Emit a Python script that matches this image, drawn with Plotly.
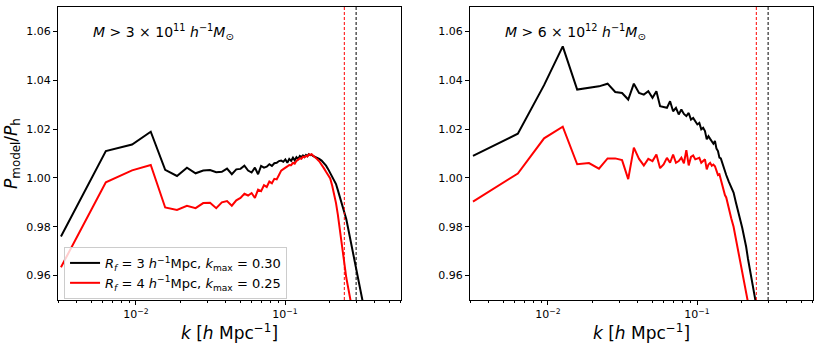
import plotly.graph_objects as go
from plotly.subplots import make_subplots

# k bins [h/Mpc]
k = [0.00314, 0.00628, 0.00942, 0.01257, 0.01571, 0.01885, 0.02199, 0.02513, 0.02827, 0.03142,
     0.03456, 0.0377, 0.04084, 0.04398, 0.04712, 0.05027, 0.05341, 0.05655, 0.05969, 0.06283,
     0.06597, 0.06912, 0.07226, 0.0754, 0.07854, 0.08168, 0.08482, 0.08796, 0.09111, 0.09425,
     0.09739, 0.10053, 0.10367, 0.10681, 0.10996, 0.1131, 0.11624, 0.11938, 0.12252, 0.12566,
     0.1288, 0.13195, 0.13509, 0.13823, 0.14137, 0.14451, 0.14765, 0.1508, 0.15394, 0.15708,
     0.16336, 0.16965, 0.17593, 0.18221, 0.1885, 0.19478, 0.20106, 0.20735, 0.21363, 0.21991,
     0.2262, 0.23248, 0.23876, 0.24504, 0.25133, 0.25761, 0.26389, 0.27018, 0.27646, 0.28274,
     0.28903, 0.29531, 0.30159, 0.30788, 0.31416, 0.32044, 0.32673, 0.33301]

# P_model / P_h, low-mass sample
low_rf3 = [0.9760, 1.0110, 1.0137, 1.0189, 1.0033, 1.0008, 1.0042, 1.0019, 1.0030, 1.0032,
           1.0023, 1.0025, 1.0038, 1.0015, 1.0035, 1.0037, 1.0050, 1.0030, 1.0022, 1.0042,
           1.0015, 1.0049, 1.0042, 1.0046, 1.0056, 1.0049, 1.0060, 1.0062, 1.0069, 1.0071,
           1.0066, 1.0076, 1.0062, 1.0078, 1.0070, 1.0083, 1.0072, 1.0085, 1.0078, 1.0090,
           1.0085, 1.0092, 1.0086, 1.0094, 1.0089, 1.0097, 1.0093, 1.0095, 1.0090, 1.0088,
           1.0084, 1.0078, 1.0071, 1.0062, 1.0050, 1.0036, 1.0020, 1.0006, 0.9995, 0.9975,
           0.9950, 0.9926, 0.9902, 0.9880, 0.9857, 0.9832, 0.9800, 0.9770, 0.9738, 0.9708,
           0.9680, 0.9650, 0.9622, 0.9594, 0.9568, 0.9541, 0.9516, 0.9490]
low_rf4 = [0.9634, 0.9982, 1.0031, 1.0053, 0.9879, 0.9869, 0.9886, 0.9876, 0.9897, 0.9898,
           0.9876, 0.9900, 0.9905, 0.9886, 0.9908, 0.9918, 0.9935, 0.9928, 0.9938, 0.9918,
           0.9952, 0.9946, 0.9970, 0.9963, 0.9985, 0.9978, 0.9996, 0.9994, 1.0012, 1.0030,
           1.0036, 1.0040, 1.0047, 1.0053, 1.0052, 1.0062, 1.0058, 1.0070, 1.0075, 1.0080,
           1.0078, 1.0087, 1.0084, 1.0090, 1.0088, 1.0096, 1.0094, 1.0097, 1.0092, 1.0088,
           1.0078, 1.0068, 1.0055, 1.0040, 1.0025, 1.0012, 0.9998, 0.9968, 0.9935, 0.9897,
           0.9850, 0.9795, 0.9738, 0.9680, 0.9630, 0.9592, 0.9558, 0.9525, 0.9492, None,
           None, None, None, None, None, None, None, None]

# high-mass sample
high_rf3 = [1.0090, 1.0181, 1.0380, 1.0539, 1.0362, 1.0369, 1.0375, 1.0386, 1.0352, 1.0348,
            1.0321, 1.0386, 1.0348, 1.0341, 1.0355, 1.0328, 1.0355, 1.0294, 1.0292, 1.0287,
            1.0314, 1.0273, 1.0287, 1.0260, 1.0280, 1.0262, 1.0253, 1.0266, 1.0239, 1.0246,
            1.0232, 1.0219, 1.0225, 1.0199, 1.0205, 1.0192, 1.0158, 1.0171, 1.0160, 1.0147,
            1.0140, 1.0151, 1.0120, 1.0110, 1.0083, 1.0080, 1.0060, 1.0045, 1.0030, 1.0012,
            0.9985, 0.9962, 0.9940, 0.9900, 0.9858, 0.9830, 0.9796, 0.9760, 0.9718, 0.9668,
            0.9628, 0.9582, 0.9540, 0.9508, 0.9470, None, None, None, None, None,
            None, None, None, None, None, None, None, None]
high_rf4 = [0.9903, 1.0018, 1.0162, 1.0210, 1.0056, 1.0061, 1.0038, 1.0080, 1.0080, 1.0073,
            0.9995, 1.0124, 1.0078, 1.0051, 1.0078, 1.0069, 1.0096, 1.0040, 1.0055, 1.0082,
            1.0062, 1.0096, 1.0062, 1.0069, 1.0083, 1.0060, 1.0114, 1.0051, 1.0086, 1.0092,
            1.0076, 1.0080, 1.0082, 1.0062, 1.0070, 1.0076, 1.0035, 1.0055, 1.0062, 1.0050,
            1.0055, 1.0048, 1.0030, 1.0012, 1.0015, 0.9990, 0.9965, 0.9950, 0.9930, 0.9920,
            0.9870, 0.9835, 0.9800, 0.9750, 0.9700, 0.9660, 0.9620, 0.9580, 0.9535, 0.9490,
            None, None, None, None, None, None, None, None, None, None,
            None, None, None, None, None, None, None, None]

kmax_rf3 = 0.30
kmax_rf4 = 0.25
panel_labels = ["<i>M</i> > 3 × 10<sup>11</sup> <i>h</i><sup>−1</sup><i>M</i><sub>⊙</sub>",
                "<i>M</i> > 6 × 10<sup>12</sup> <i>h</i><sup>−1</sup><i>M</i><sub>⊙</sub>"]
series_names = ["<i>R<sub>f</sub></i> = 3 <i>h</i><sup>−1</sup>Mpc, <i>k</i><sub>max</sub> = 0.30",
                "<i>R<sub>f</sub></i> = 4 <i>h</i><sup>−1</sup>Mpc, <i>k</i><sub>max</sub> = 0.25"]
minor_k = [0.003, 0.004, 0.005, 0.006, 0.007, 0.008, 0.009, 0.02, 0.03, 0.04, 0.05,
           0.06, 0.07, 0.08, 0.09, 0.2, 0.3, 0.4, 0.5, 0.6]

FONT = "DejaVu Sans"

fig = make_subplots(rows=1, cols=2, horizontal_spacing=0.09)

panels = [(low_rf3, low_rf4), (high_rf3, high_rf4)]
for col, (rf3, rf4) in enumerate(panels, start=1):
    fig.add_hline(y=1.0, line_color="#808080", line_width=1.5, row=1, col=col)
    fig.add_trace(go.Scatter(x=k, y=rf3, mode="lines", line=dict(color="black", width=2),
                             name=series_names[0], showlegend=(col == 1)), row=1, col=col)
    fig.add_trace(go.Scatter(x=k, y=rf4, mode="lines", line=dict(color="red", width=2),
                             name=series_names[1], showlegend=(col == 1)), row=1, col=col)
    fig.add_vline(x=kmax_rf4, line_color="red", line_dash="3px,2px", line_width=1, row=1, col=col)
    fig.add_vline(x=kmax_rf3, line_color="black", line_dash="3px,2px", line_width=1, row=1, col=col)
    xref = "x domain" if col == 1 else "x2 domain"
    yref = "y domain" if col == 1 else "y2 domain"
    fig.add_annotation(text=panel_labels[col - 1], xref=xref, yref=yref, x=0.096, y=0.915,
                       xanchor="left", yanchor="middle", showarrow=False,
                       font=dict(size=14, color="black", family=FONT))

axis_common = dict(showline=True, linecolor="black", linewidth=1, mirror=True,
                   ticks="outside", ticklen=4, tickcolor="black", showgrid=False,
                   zeroline=False, tickfont=dict(size=11, color="black", family=FONT))
fig.update_xaxes(type="log", range=[-2.5229, -0.2218], tickvals=[0.01, 0.1],
                 ticktext=["10<sup>−2</sup>", "10<sup>−1</sup>"],
                 minor=dict(tickmode="array", tickvals=minor_k, ticks="outside",
                            ticklen=2, tickcolor="black"),
                 title=dict(text="<i>k</i> [<i>h</i> Mpc<sup>−1</sup>]", standoff=6,
                            font=dict(size=17, color="black", family=FONT)),
                 **axis_common)
fig.update_yaxes(range=[0.95, 1.07], tickvals=[0.96, 0.98, 1.00, 1.02, 1.04, 1.06],
                 tickformat=".2f", **axis_common)
fig.update_yaxes(title=dict(text="<i>P</i><sub>model</sub>/<i>P</i><sub>h</sub>", standoff=4,
                            font=dict(size=17, color="black", family=FONT)), row=1, col=1)
fig.update_layout(
    xaxis=dict(domain=[0, 0.4543]),
    xaxis2=dict(domain=[0.5457, 1]),
    width=830, height=346,
    margin=dict(l=58, r=17, t=7, b=46),
    plot_bgcolor="white", paper_bgcolor="white",
    font=dict(family=FONT, color="black"),
    legend=dict(x=0.008, y=0.181, xanchor="left", yanchor="top",
                bgcolor="rgba(255,255,255,0.8)", bordercolor="#cccccc", borderwidth=1,
                font=dict(size=13, color="black", family=FONT), tracegroupgap=0,
                itemwidth=30),
)

fig.write_html("out.html", config={"displayModeBar": False},
               post_script="document.body.style.margin='0';")
